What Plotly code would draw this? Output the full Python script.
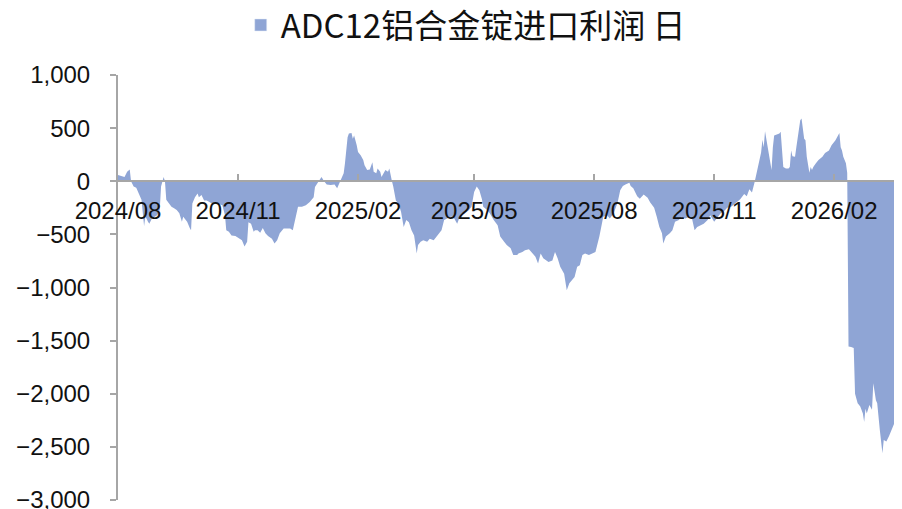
import plotly.graph_objects as go

series_name = "ADC12铝合金锭进口利润 日"

dates = [
    "2024-08-01","2024-08-03","2024-08-06","2024-08-08","2024-08-10","2024-08-11","2024-08-13","2024-08-15",
    "2024-08-17","2024-08-19","2024-08-21","2024-08-22","2024-08-24","2024-08-25","2024-08-27","2024-08-29",
    "2024-08-31","2024-09-02","2024-09-03","2024-09-05","2024-09-06","2024-09-07","2024-09-09","2024-09-11",
    "2024-09-13","2024-09-15","2024-09-17","2024-09-19","2024-09-20","2024-09-21","2024-09-23","2024-09-25",
    "2024-09-26","2024-09-27","2024-09-29","2024-10-01","2024-10-02","2024-10-04","2024-10-06","2024-10-08",
    "2024-10-12","2024-10-16","2024-10-20",
    "2024-10-22","2024-10-23","2024-10-25","2024-10-27","2024-10-30","2024-11-01","2024-11-04","2024-11-06",
    "2024-11-08","2024-11-09","2024-11-11","2024-11-13","2024-11-14","2024-11-16","2024-11-18","2024-11-20",
    "2024-11-22","2024-11-24","2024-11-27","2024-11-29","2024-12-01","2024-12-03","2024-12-06","2024-12-09",
    "2024-12-11","2024-12-13","2024-12-15","2024-12-17","2024-12-20","2024-12-23","2024-12-26","2024-12-29",
    "2024-12-30","2025-01-01","2025-01-03","2025-01-04","2025-01-06",
    "2025-01-08","2025-01-11","2025-01-14","2025-01-16","2025-01-18","2025-01-19","2025-01-21","2025-01-22",
    "2025-01-24","2025-01-25","2025-01-27","2025-01-28","2025-01-29","2025-01-31","2025-02-01","2025-02-03",
    "2025-02-05","2025-02-06","2025-02-08","2025-02-10","2025-02-12","2025-02-13","2025-02-15","2025-02-16",
    "2025-02-18","2025-02-19","2025-02-21","2025-02-22","2025-02-24","2025-02-25","2025-02-27","2025-02-28",
    "2025-03-02","2025-03-04","2025-03-06","2025-03-08","2025-03-10","2025-03-12","2025-03-14","2025-03-16",
    "2025-03-18",
    "2025-03-19","2025-03-21","2025-03-23","2025-03-26","2025-03-28","2025-03-31","2025-04-02","2025-04-04",
    "2025-04-06","2025-04-08","2025-04-10","2025-04-13","2025-04-15","2025-04-18","2025-04-20","2025-04-22",
    "2025-04-24","2025-04-27","2025-04-29","2025-05-01","2025-05-02","2025-05-03","2025-05-05","2025-05-07",
    "2025-05-08","2025-05-11","2025-05-13","2025-05-16","2025-05-19","2025-05-21","2025-05-24","2025-05-26",
    "2025-05-29","2025-05-31","2025-06-03",
    "2025-06-04","2025-06-07","2025-06-09","2025-06-12","2025-06-14","2025-06-17","2025-06-19","2025-06-21",
    "2025-06-23","2025-06-25","2025-06-27","2025-06-30","2025-07-02","2025-07-04","2025-07-06","2025-07-09",
    "2025-07-10","2025-07-11","2025-07-13","2025-07-15","2025-07-17","2025-07-19","2025-07-21","2025-07-23",
    "2025-07-25","2025-07-28","2025-07-30","2025-08-02","2025-08-05","2025-08-07","2025-08-08","2025-08-11",
    "2025-08-13","2025-08-16","2025-08-19","2025-08-21",
    "2025-08-23","2025-08-25","2025-08-28","2025-08-29","2025-08-31","2025-09-03","2025-09-05","2025-09-08",
    "2025-09-11","2025-09-13","2025-09-16","2025-09-18","2025-09-20","2025-09-22","2025-09-23","2025-09-25",
    "2025-09-27","2025-09-28","2025-09-30","2025-10-02","2025-10-05","2025-10-07","2025-10-10","2025-10-13",
    "2025-10-15","2025-10-17","2025-10-19","2025-10-22","2025-10-24","2025-10-27","2025-10-29","2025-11-01",
    "2025-11-03","2025-11-06","2025-11-08",
    "2025-11-11","2025-11-14","2025-11-16","2025-11-19","2025-11-21","2025-11-24","2025-11-26","2025-11-28",
    "2025-11-30","2025-12-02","2025-12-03","2025-12-04","2025-12-05","2025-12-07","2025-12-08","2025-12-09",
    "2025-12-10","2025-12-12","2025-12-14","2025-12-15","2025-12-16","2025-12-17","2025-12-19","2025-12-21",
    "2025-12-22","2025-12-23","2025-12-24","2025-12-26","2025-12-28","2025-12-29","2025-12-30","2025-12-31",
    "2026-01-02","2026-01-03","2026-01-05","2026-01-06","2026-01-07","2026-01-09","2026-01-10","2026-01-11",
    "2026-01-13","2026-01-14","2026-01-15","2026-01-16","2026-01-18","2026-01-20","2026-01-23","2026-01-25",
    "2026-01-28","2026-01-30","2026-02-02","2026-02-05","2026-02-06","2026-02-07","2026-02-08","2026-02-10",
    "2026-02-11",
    "2026-02-12","2026-02-14","2026-02-16","2026-02-17","2026-02-19","2026-02-21","2026-02-23","2026-02-24",
    "2026-02-25","2026-02-26","2026-02-28","2026-03-02","2026-03-03","2026-03-05","2026-03-06","2026-03-08",
    "2026-03-10","2026-03-11","2026-03-13","2026-03-15","2026-03-17","2026-03-19","2026-03-21","2026-03-24",
    "2026-03-25",
]

profit = [
    60, 50, 40, 90, 110, 0, -50, -60,
    -110, -175, -420, -330, -380, -400, -350, -335,
    -320, -270, -50, 40, 0, -175, -210, -240,
    -255, -270, -300, -380, -335, -350, -380, -440,
    -460, -210, -150, -115, -150, -130, -180, -180,
    -210, -210, -225,
    -320, -460, -475, -510, -515, -530, -555, -615,
    -570, -385, -400, -475, -460, -460, -485, -440,
    -490, -515, -540, -585, -555, -490, -445, -445,
    -445, -460, -335, -240, -240, -225, -195, -150,
    -55, -20, 15, 40, 0,
    -30, -35, -30, -65, -10, 10, 75, 170,
    415, 450, 455, 400, 430, 340, 275, 245,
    200, 150, 105, 110, 180, 90, 75, 120,
    90, 40, 90, 105, 90, 120, 0, -50,
    -180, -210, -290, -430, -365, -385, -460, -510,
    -680,
    -600, -570, -555, -570, -540, -555, -520, -490,
    -460, -365, -350, -335, -335, -400, -335, -320,
    -300, -270, -240, -100, -65, -50, -85, -170,
    -240, -270, -300, -365, -415, -520, -570, -600,
    -630, -695, -695,
    -680, -665, -650, -640, -665, -710, -775, -680,
    -725, -745, -760, -745, -665, -725, -805, -870,
    -930, -1025, -960, -930, -900, -805, -790, -695,
    -680, -695, -680, -665, -520, -415, -335, -320,
    -350, -300, -200, -85,
    -45, -30, -15, -45, -65, -140, -165, -125,
    -155, -200, -250, -335, -430, -490, -585, -520,
    -505, -490, -460, -380, -365, -335, -350, -335,
    -350, -460, -430, -415, -400, -365, -320, -380,
    -350, -300, -290,
    -250, -240, -220, -185, -170, -120, -140, -75,
    -105, -10, 50, 105, 170, 270, 390, 320,
    470, 320, 200, 105, 320, 430, 440, 450,
    465, 260, 135, 120, 120, 135, 290, 235,
    230, 320, 510, 575, 590, 400, 385, 230,
    80, 135, 105, 135, 170, 200, 230, 265,
    290, 340, 385, 455, 320, 290, 230, 170,
    80,
    -1555, -1560, -1570, -2000, -2090, -2120, -2185, -2265,
    -2140, -2185, -2105, -2150, -1900, -2060, -2090, -2340,
    -2560, -2435, -2450, -2400, -2340, -2280, -2310, -2230,
    -2325,
]

x_range = ["2024-08-01", "2026-03-25"]
y_range = [-3000, 1000]

fill_color = "#8FA5D5"
axis_color = "#A6A6A6"
text_color = "#111111"
font_family = "Liberation Sans, Noto Sans CJK SC, sans-serif"

fig = go.Figure()
fig.add_trace(go.Scatter(
    x=dates, y=profit, mode="lines", fill="tozeroy",
    line=dict(width=0, color=fill_color), fillcolor=fill_color,
    showlegend=False, hoverinfo="x+y",
))
# legend entry (square swatch)
fig.add_trace(go.Bar(x=[None], y=[None], name=series_name,
                     marker=dict(color=fill_color), showlegend=True))

# the page body has an 8px default margin, so the figure is sized to fit inside it
fig.update_layout(
    width=894, height=501,
    margin=dict(l=110, r=0, t=67, b=9, autoexpand=False),
    paper_bgcolor="white", plot_bgcolor="white",
    font=dict(family=font_family, size=24, color=text_color),
    legend=dict(orientation="h", xref="container", yref="container",
                x=0.512, xanchor="center", y=0.966, yanchor="middle",
                font=dict(family="Noto Sans CJK SC, sans-serif", size=33, color=text_color),
                itemwidth=30, borderwidth=0),
    xaxis=dict(type="date", range=x_range, tick0="2024-08-01", dtick="M3",
               tickformat="%Y/%m", ticks="inside", ticklen=6, tickwidth=2,
               tickcolor=axis_color, showline=True, linecolor=axis_color, linewidth=2,
               showgrid=False, zeroline=False, anchor="free", position=0.75,
               automargin=False, ticklabeloverflow="allow", ticklabelstandoff=8,
               tickfont=dict(size=24, color=text_color)),
    yaxis=dict(range=y_range, dtick=500, tickformat=",", ticks="outside", ticklen=6,
               tickwidth=2, tickcolor=axis_color, showline=True, linecolor=axis_color,
               linewidth=2, showgrid=False, zeroline=False, automargin=False,
               ticklabeloverflow="allow", ticklabelstandoff=15,
               tickfont=dict(size=24, color=text_color)),
)

fig.write_html("out.html")
